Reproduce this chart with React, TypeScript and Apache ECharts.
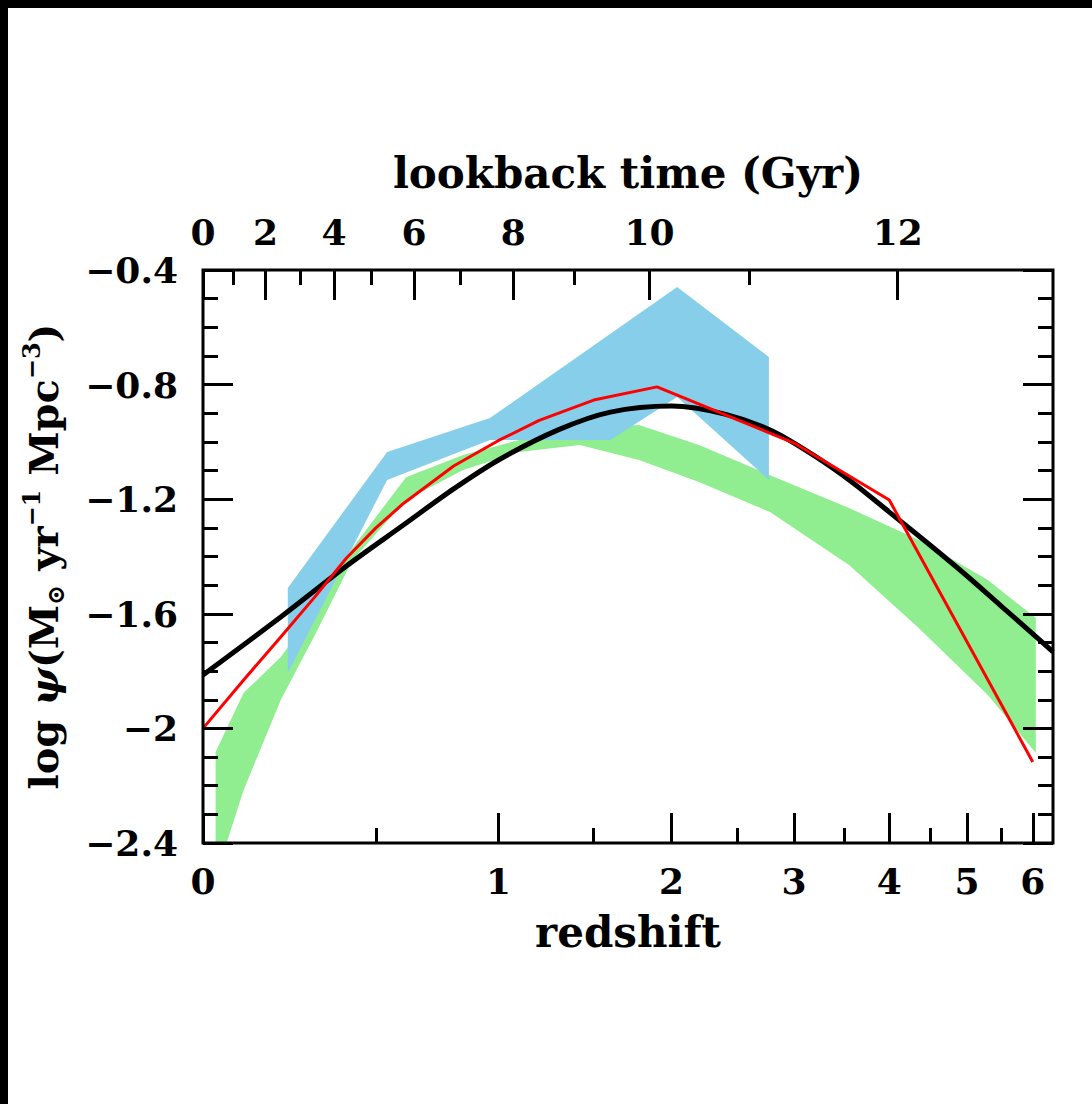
import React, { useEffect, useRef } from 'react';
import * as echarts from 'echarts';

const FONT = '"DejaVu Serif", serif';

// ---- axis ticks ----
const zMax = 6.34;
const zMajorTicks = [0, 1, 2, 3, 4, 5, 6];
const zMinorTicks = [0.5, 1.5, 2.5, 3.5, 4.5, 5.5];
// lookback time (Gyr) major ticks and the redshift where each sits
const lookbackMajor = [0, 2, 4, 6, 8, 10, 12];
const lookbackMajorZ = [0, 0.158, 0.36, 0.64, 1.07, 1.85, 4.1];
// odd Gyr (1,3,5,7,9,11) minor ticks
const lookbackMinorZ = [0.073, 0.255, 0.485, 0.83, 1.39, 2.6];

// ---- black curve ----
const blackZ = [0, 0.2, 0.4, 0.6, 0.8, 1.0, 1.3, 1.6, 2.0, 2.4, 2.8, 3.2, 3.6, 4.0, 4.5, 5.0, 5.5, 6.0, 6.34];
const blackV = [-1.814, -1.611, -1.433, -1.29, -1.164, -1.063, -0.958, -0.896, -0.875, -0.903, -0.962, -1.05, -1.145, -1.245, -1.36, -1.468, -1.573, -1.67, -1.733];

// ---- red line ----
const redZ = [0, 0.1, 0.2, 0.3, 0.4, 0.5, 0.6, 0.8, 1.0, 1.2, 1.5, 1.9, 3.0, 4.0, 6.0];
const redV = [-2.0, -1.831, -1.681, -1.541, -1.405, -1.3, -1.215, -1.084, -0.995, -0.925, -0.854, -0.808, -1.004, -1.203, -2.117];

// ---- blue band ----
const blueUpperZ = [0.22, 0.54, 0.96, 2.04, 2.77];
const blueUpperV = [-1.51, -1.035, -0.917, -0.459, -0.704];
const blueLowerZ = [0.22, 0.54, 0.96, 1.6, 2.04, 2.77];
const blueLowerV = [-1.807, -1.133, -0.993, -0.993, -0.843, -1.133];

// ---- green band ----
const greenZ = [0.03, 0.1, 0.2, 0.3, 0.42, 0.61, 0.84, 1.1, 1.42, 1.78, 2.2, 2.78, 3.55, 4.36, 5.3, 6.05];
const greenLower = [-2.519, -2.215, -1.901, -1.674, -1.412, -1.203, -1.098, -1.035, -1.011, -1.063, -1.14, -1.245, -1.43, -1.65, -1.883, -2.086];
const greenUpper = [-2.082, -1.876, -1.751, -1.587, -1.37, -1.123, -1.046, -0.993, -0.951, -0.941, -1.011, -1.116, -1.231, -1.342, -1.482, -1.615];

const lx = (z: number) => Math.log10(1 + z);
const toPts = (zs: number[], vs: number[]) => zs.map((z, i) => [lx(z), vs[i]]);

function bandSeries(uz: number[], uv: number[], lz: number[], lv: number[], color: string) {
  const poly = [...toPts(uz, uv), ...toPts(lz, lv).reverse()];
  return {
    type: 'custom',
    clip: true,
    silent: true,
    xAxisIndex: 0,
    yAxisIndex: 0,
    data: [poly[0]],
    renderItem: (_p: any, api: any) => ({
      type: 'polygon',
      shape: { points: poly.map((p) => api.coord(p)) },
      style: { fill: color, stroke: null },
    }),
  };
}

const tickStyle = { color: '#000', width: 3 };
const labelBase = { color: '#000', fontFamily: FONT, fontSize: 36, fontWeight: 'bold' as const };

export default function App() {
  const ref = useRef<HTMLDivElement>(null);
  useEffect(() => {
    if (!ref.current) return;
    const chart = echarts.init(ref.current, undefined, { renderer: 'svg' });
    const xMin = 0;
    const xMax = lx(zMax);
    const majorX = zMajorTicks.map(lx);
    const minorX = zMinorTicks.map(lx);
    const lbMajorX = lookbackMajorZ.map(lx);
    const lbMinorX = lookbackMinorZ.map(lx);
    const baseX = (extra: any) => ({
      type: 'value',
      min: xMin,
      max: xMax,
      z: 10,
      axisLine: { show: false, onZero: false },
      splitLine: { show: false },
      ...extra,
    });
    const option: any = {
      animation: false,
      backgroundColor: '#fff',
      grid: {
        show: true,
        z: 10,
        left: 203,
        top: 270,
        width: 850,
        height: 573,
        borderColor: '#000',
        borderWidth: 3,
        backgroundColor: 'transparent',
      },
      graphic: [
        { type: 'rect', x: 0, y: 0, shape: { width: 1092, height: 8 }, style: { fill: '#000' }, z: 100 },
        { type: 'rect', x: 0, y: 0, shape: { width: 8, height: 1104 }, style: { fill: '#000' }, z: 100 },
      ],
      xAxis: [
        baseX({
          position: 'bottom',
          name: 'redshift',
          nameLocation: 'middle',
          nameGap: 68,
          nameTextStyle: { ...labelBase, fontSize: 42 },
          axisTick: { show: true, inside: true, length: 30, lineStyle: tickStyle, customValues: majorX },
          axisLabel: {
            show: true,
            ...labelBase,
            margin: 20,
            customValues: majorX,
            formatter: (v: number) => String(Math.round(Math.pow(10, v) - 1)),
          },
        }),
        baseX({
          position: 'bottom',
          axisTick: { show: true, inside: true, length: 15, lineStyle: tickStyle, customValues: minorX },
          axisLabel: { show: false },
        }),
        baseX({
          position: 'top',
          name: 'lookback time (Gyr)',
          nameLocation: 'middle',
          nameGap: 76,
          nameTextStyle: { ...labelBase, fontSize: 42 },
          axisTick: { show: true, inside: true, length: 30, lineStyle: tickStyle, customValues: lbMajorX },
          axisLabel: {
            show: true,
            ...labelBase,
            margin: 20,
            customValues: lbMajorX,
            formatter: (v: number) => {
              let best = 0;
              lbMajorX.forEach((x, i) => {
                if (Math.abs(x - v) < Math.abs(lbMajorX[best] - v)) best = i;
              });
              return String(lookbackMajor[best]);
            },
          },
        }),
        baseX({
          position: 'top',
          axisTick: { show: true, inside: true, length: 15, lineStyle: tickStyle, customValues: lbMinorX },
          axisLabel: { show: false },
        }),
      ],
      yAxis: [
        {
          type: 'value',
          position: 'left',
          min: -2.4,
          max: -0.4,
          interval: 0.4,
          z: 10,
          name: '{a|log }{p|ψ}{a|(M}{s|⊙}{a| yr}{u|−1}{a| Mpc}{u|−3}{a|)}',
          nameLocation: 'middle',
          nameRotate: 90,
          nameGap: 136,
          nameTextStyle: {
            ...labelBase,
            fontSize: 40,
            rich: {
              a: { ...labelBase, fontSize: 40, lineHeight: 48, verticalAlign: 'middle' },
              p: { ...labelBase, fontSize: 40, fontStyle: 'italic', lineHeight: 48, verticalAlign: 'middle' },
              s: { ...labelBase, fontSize: 24, lineHeight: 24, verticalAlign: 'bottom' },
              u: { ...labelBase, fontSize: 24, lineHeight: 24, verticalAlign: 'top' },
            },
          },
          axisLine: { show: false, onZero: false },
          splitLine: { show: false },
          axisTick: { show: true, inside: true, length: 30, lineStyle: tickStyle },
          minorTick: { show: true, splitNumber: 4, length: 15, lineStyle: tickStyle },
          axisLabel: {
            show: true,
            ...labelBase,
            margin: 25,
            formatter: (v: number) => {
              const r = Math.round(v * 10) / 10;
              return r < 0 ? '\u2212' + String(Math.abs(r)) : String(r);
            },
          },
        },
        {
          type: 'value',
          position: 'right',
          min: -2.4,
          max: -0.4,
          interval: 0.4,
          z: 10,
          axisLine: { show: false, onZero: false },
          splitLine: { show: false },
          axisTick: { show: true, inside: true, length: 30, lineStyle: tickStyle },
          minorTick: { show: true, splitNumber: 4, length: 15, lineStyle: tickStyle },
          axisLabel: { show: false },
        },
      ],
      series: [
        bandSeries(greenZ, greenUpper, greenZ, greenLower, '#90EE90'),
        bandSeries(blueUpperZ, blueUpperV, blueLowerZ, blueLowerV, '#87CEEB'),
        {
          type: 'line',
          xAxisIndex: 0,
          yAxisIndex: 0,
          data: toPts(blackZ, blackV),
          showSymbol: false,
          symbol: 'none',
          smooth: 0.3,
          lineStyle: { color: '#000', width: 5 },
          silent: true,
        },
        {
          type: 'line',
          xAxisIndex: 0,
          yAxisIndex: 0,
          data: toPts(redZ, redV),
          showSymbol: false,
          symbol: 'none',
          lineStyle: { color: '#FF0000', width: 3 },
          silent: true,
        },
      ],
    };
    chart.setOption(option);
    return () => chart.dispose();
  }, []);
  return <div ref={ref} style={{ position: 'absolute', left: 0, top: 0, width: 1092, height: 1104 }} />;
}
